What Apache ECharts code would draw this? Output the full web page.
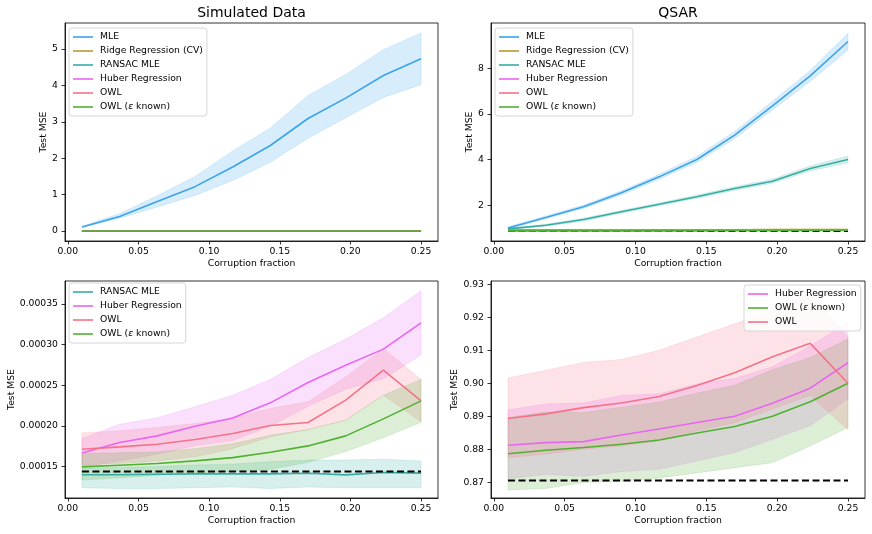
<!DOCTYPE html>
<html>
<head>
<meta charset="utf-8">
<script src="https://cdn.jsdelivr.net/npm/echarts@6/dist/echarts.min.js"></script>
<style>
html,body{margin:0;padding:0;background:#fff;}
#chart{width:872px;height:534px;}
</style>
</head>
<body>
<div id="chart"></div>
<script>
// ---------------- data ----------------
const xFrac = [0.01, 0.03667, 0.06333, 0.09, 0.11667, 0.14333, 0.17, 0.19667, 0.22333, 0.25];
const xTicks = [0, 0.05, 0.10, 0.15, 0.20, 0.25];

// Simulated data
const simMLE    = [0.11, 0.40, 0.81, 1.22, 1.76, 2.35, 3.09, 3.65, 4.27, 4.73];
const simMLELo  = [0.10, 0.35, 0.66, 0.98, 1.39, 1.89, 2.55, 3.11, 3.67, 4.02];
const simMLEHi  = [0.13, 0.48, 0.97, 1.50, 2.20, 2.83, 3.72, 4.30, 4.98, 5.44];
const simRidge   = [0.0021, 0.0022, 0.0024, 0.0025, 0.0027, 0.0029, 0.0031, 0.0034, 0.0036, 0.0039];
const simRidgeLo = [0.0018, 0.0019, 0.0021, 0.0022, 0.0024, 0.0026, 0.0027, 0.0030, 0.0032, 0.0034];
const simRidgeHi = [0.0024, 0.0025, 0.0027, 0.0028, 0.0030, 0.0032, 0.0035, 0.0038, 0.0040, 0.0044];
const simRansac   = [0.0001400, 0.0001400, 0.0001405, 0.0001410, 0.0001410, 0.0001410, 0.0001418, 0.0001398, 0.0001428, 0.0001420];
const simRansacLo = [0.0001240, 0.0001230, 0.0001230, 0.0001240, 0.0001250, 0.0001230, 0.0001250, 0.0001240, 0.0001240, 0.0001240];
const simRansacHi = [0.0001480, 0.0001490, 0.0001500, 0.0001520, 0.0001530, 0.0001560, 0.0001580, 0.0001580, 0.0001590, 0.0001570];
const simHuber   = [0.0001668, 0.0001795, 0.0001877, 0.0001996, 0.0002098, 0.0002283, 0.0002533, 0.0002746, 0.0002943, 0.0003266];
const simHuberLo = [0.0001492, 0.0001570, 0.0001654, 0.0001758, 0.0001819, 0.0001996, 0.0002240, 0.0002450, 0.0002580, 0.0002872];
const simHuberHi = [0.0001844, 0.0002020, 0.0002100, 0.0002234, 0.0002377, 0.0002570, 0.0002840, 0.0003066, 0.0003328, 0.0003660];
const simOWL   = [0.0001713, 0.0001742, 0.0001775, 0.0001832, 0.0001906, 0.0002004, 0.0002041, 0.0002316, 0.0002684, 0.0002307];
const simOWLLo = [0.0001520, 0.0001540, 0.0001570, 0.0001620, 0.0001720, 0.0001865, 0.0001955, 0.0002070, 0.0002377, 0.0002050];
const simOWLHi = [0.0001914, 0.0001939, 0.0001980, 0.0002029, 0.0002090, 0.0002213, 0.0002295, 0.0002600, 0.0002950, 0.0002570];
const simKnown   = [0.0001496, 0.0001516, 0.0001537, 0.0001570, 0.0001610, 0.0001676, 0.0001754, 0.0001877, 0.0002086, 0.0002307];
const simKnownLo = [0.0001335, 0.0001362, 0.0001394, 0.0001420, 0.0001440, 0.0001467, 0.0001553, 0.0001684, 0.0001855, 0.0002044];
const simKnownHi = [0.0001660, 0.0001670, 0.0001680, 0.0001720, 0.0001780, 0.0001885, 0.0001955, 0.0002070, 0.0002377, 0.0002570];
const simBaseline = 0.0001439;

// QSAR
const qMLE    = [1.00, 1.46, 1.93, 2.54, 3.24, 4.00, 5.07, 6.35, 7.66, 9.17];
const qMLELo  = [0.95, 1.40, 1.86, 2.45, 3.14, 3.87, 4.92, 6.17, 7.42, 8.80];
const qMLEHi  = [1.05, 1.53, 2.01, 2.63, 3.35, 4.14, 5.23, 6.55, 7.90, 9.53];
const qRidge   = [0.915, 0.916, 0.918, 0.919, 0.921, 0.923, 0.925, 0.928, 0.931, 0.934];
const qRidgeLo = [0.905, 0.906, 0.908, 0.909, 0.910, 0.912, 0.914, 0.916, 0.919, 0.921];
const qRidgeHi = [0.925, 0.926, 0.928, 0.930, 0.932, 0.934, 0.936, 0.940, 0.943, 0.947];
const qRansac   = [0.96, 1.12, 1.37, 1.71, 2.04, 2.37, 2.73, 3.05, 3.61, 4.00];
const qRansacLo = [0.93, 1.08, 1.31, 1.65, 1.98, 2.30, 2.65, 2.96, 3.50, 3.86];
const qRansacHi = [0.99, 1.16, 1.43, 1.77, 2.10, 2.44, 2.81, 3.14, 3.72, 4.15];
const qHuber   = [0.8812, 0.8820, 0.8823, 0.8843, 0.8861, 0.8881, 0.8900, 0.8939, 0.8985, 0.9062];
const qHuberLo = [0.8711, 0.8723, 0.8718, 0.8732, 0.8739, 0.8764, 0.8790, 0.8830, 0.8871, 0.8953];
const qHuberHi = [0.8919, 0.8937, 0.8940, 0.8963, 0.8968, 0.8998, 0.9014, 0.9050, 0.9113, 0.9184];
const qOWL   = [0.8893, 0.8907, 0.8926, 0.8940, 0.8960, 0.8993, 0.9032, 0.9080, 0.9121, 0.9000];
const qOWLLo = [0.8774, 0.8785, 0.8800, 0.8810, 0.8825, 0.8856, 0.8880, 0.8922, 0.8963, 0.8859];
const qOWLHi = [0.9016, 0.9039, 0.9063, 0.9072, 0.9100, 0.9140, 0.9180, 0.9220, 0.9275, 0.9140];
const qKnown   = [0.8786, 0.8797, 0.8805, 0.8815, 0.8828, 0.8849, 0.8869, 0.8900, 0.8944, 0.9000];
const qKnownLo = [0.8676, 0.8681, 0.8699, 0.8703, 0.8713, 0.8728, 0.8744, 0.8759, 0.8810, 0.8866];
const qKnownHi = [0.8896, 0.8913, 0.8911, 0.8927, 0.8943, 0.8970, 0.8994, 0.9041, 0.9078, 0.9134];
const qBaseline = 0.8705;

const tlYTicks = [0, 1, 2, 3, 4, 5];
const trYTicks = [2, 4, 6, 8];
const blYTicks = [0.00015, 0.00020, 0.00025, 0.00030, 0.00035];
const brYTicks = [0.87, 0.88, 0.89, 0.90, 0.91, 0.92, 0.93];

const titles = ['Simulated Data', 'QSAR'];
const names = {
  mle: 'MLE', ridge: 'Ridge Regression (CV)', ransac: 'RANSAC MLE',
  huber: 'Huber Regression', owl: 'OWL', known: 'OWL (ε known)'
};
const colors = {
  mle: '#3ba3ec', ridge: '#bb9832', ransac: '#36ada4',
  huber: '#e866f4', owl: '#f77189', known: '#50b131'
};

// ---------------- build ----------------
const FONT = 'DejaVu Sans';
const FS = 9.25;
const pairs = ys => xFrac.map((x, i) => [x, ys[i]]);

function bandRender(color) {
  return function (params, api) {
    if (params.dataIndexInside !== 0) return null;
    const n = params.dataInsideLength;
    const top = [], bot = [];
    for (let j = 0; j < n; j++) {
      const x = api.value(0, j);
      top.push(api.coord([x, api.value(2, j)]));
      bot.push(api.coord([x, api.value(1, j)]));
    }
    const pts = top.concat(bot.reverse());
    return {
      type: 'polygon',
      shape: {points: pts},
      style: {fill: color, opacity: 0.2, stroke: color, lineWidth: 0.8}
    };
  };
}

const series = [];
function addPanel(g, specs, baseline, baseZ) {
  specs.forEach((s, i) => {
    series.push({
      type: 'custom', name: 'band' + g + '_' + i, xAxisIndex: g, yAxisIndex: g,
      data: xFrac.map((x, j) => [x, s.lo[j], s.hi[j]]),
      encode: {x: 0, y: [1, 2]},
      renderItem: bandRender(colors[s.k]), silent: true, z: 1, animation: false
    });
  });
  series.push({
    type: 'line', name: 'baseline' + g, xAxisIndex: g, yAxisIndex: g,
    data: pairs(xFrac.map(() => baseline)), symbol: 'none', z: baseZ, animation: false,
    lineStyle: {color: '#000', width: 1.9, type: [7, 3.5]}
  });
  specs.forEach((s, i) => {
    series.push({
      type: 'line', name: names[s.k], xAxisIndex: g, yAxisIndex: g,
      data: pairs(s.mean), symbol: 'none', showSymbol: false, z: 3 + i, animation: false,
      itemStyle: {color: colors[s.k]},
      lineStyle: {color: colors[s.k], width: 1.6}
    });
  });
}

addPanel(0, [
  {k: 'mle', mean: simMLE, lo: simMLELo, hi: simMLEHi},
  {k: 'ridge', mean: simRidge, lo: simRidgeLo, hi: simRidgeHi},
  {k: 'ransac', mean: simRansac, lo: simRansacLo, hi: simRansacHi},
  {k: 'huber', mean: simHuber, lo: simHuberLo, hi: simHuberHi},
  {k: 'owl', mean: simOWL, lo: simOWLLo, hi: simOWLHi},
  {k: 'known', mean: simKnown, lo: simKnownLo, hi: simKnownHi}
], simBaseline, 2);
addPanel(1, [
  {k: 'mle', mean: qMLE, lo: qMLELo, hi: qMLEHi},
  {k: 'ridge', mean: qRidge, lo: qRidgeLo, hi: qRidgeHi},
  {k: 'ransac', mean: qRansac, lo: qRansacLo, hi: qRansacHi},
  {k: 'huber', mean: qHuber, lo: qHuberLo, hi: qHuberHi},
  {k: 'owl', mean: qOWL, lo: qOWLLo, hi: qOWLHi},
  {k: 'known', mean: qKnown, lo: qKnownLo, hi: qKnownHi}
], qBaseline, 2);
addPanel(2, [
  {k: 'ransac', mean: simRansac, lo: simRansacLo, hi: simRansacHi},
  {k: 'huber', mean: simHuber, lo: simHuberLo, hi: simHuberHi},
  {k: 'owl', mean: simOWL, lo: simOWLLo, hi: simOWLHi},
  {k: 'known', mean: simKnown, lo: simKnownLo, hi: simKnownHi}
], simBaseline, 20);
addPanel(3, [
  {k: 'huber', mean: qHuber, lo: qHuberLo, hi: qHuberHi},
  {k: 'known', mean: qKnown, lo: qKnownLo, hi: qKnownHi},
  {k: 'owl', mean: qOWL, lo: qOWLLo, hi: qOWLHi}
], qBaseline, 20);

const grids = [
  {left: 65, top: 23, width: 373, height: 218},
  {left: 491, top: 23, width: 374, height: 218},
  {left: 65, top: 281, width: 373, height: 217},
  {left: 491, top: 281, width: 374, height: 217}
].map(g => Object.assign(g, {show: true, borderColor: '#000', borderWidth: 0.8, backgroundColor: 'transparent', containLabel: false}));

const txt = {fontFamily: FONT, fontSize: FS, color: '#000'};
const xAxes = [0, 1, 2, 3].map(g => ({
  type: 'value', gridIndex: g, min: -0.002, max: 0.262,
  name: 'Corruption fraction', nameLocation: 'middle', nameGap: 18,
  nameTextStyle: txt,
  splitLine: {show: false},
  axisLine: {show: true, onZero: false, lineStyle: {color: '#000', width: 0.8}},
  axisTick: {show: true, length: 3.5, customValues: xTicks, lineStyle: {color: '#000', width: 0.8}},
  axisLabel: Object.assign({margin: 6, customValues: xTicks, formatter: v => v.toFixed(2)}, txt)
}));
const yCfg = [
  {min: -0.272, max: 5.712, ticks: tlYTicks, fmt: v => String(Math.round(v)), gap: 17},
  {min: 0.43, max: 9.98, ticks: trYTicks, fmt: v => String(Math.round(v)), gap: 17},
  {min: 0.0001114, max: 0.000378, ticks: blYTicks, fmt: v => v.toFixed(5), gap: 49},
  {min: 0.8652, max: 0.931, ticks: brYTicks, fmt: v => v.toFixed(2), gap: 31.5}
];
const yAxes = yCfg.map((c, g) => ({
  type: 'value', gridIndex: g, min: c.min, max: c.max,
  name: 'Test MSE', nameLocation: 'middle', nameGap: c.gap, nameRotate: 90,
  nameTextStyle: txt,
  splitLine: {show: false},
  axisLine: {show: true, onZero: false, lineStyle: {color: '#000', width: 0.8}},
  axisTick: {show: true, length: 3.5, customValues: c.ticks, lineStyle: {color: '#000', width: 0.8}},
  axisLabel: Object.assign({margin: 7, customValues: c.ticks, formatter: c.fmt}, txt)
}));

const legendBase = {
  orient: 'vertical', selectedMode: false, icon: 'rect', itemWidth: 20, itemHeight: 1.6, itemGap: 2,
  backgroundColor: 'rgba(255,255,255,0.8)', borderColor: '#d6d6d6', borderWidth: 1, borderRadius: 3,
  padding: [3, 4, 3, 4], z: 30,
  textStyle: {fontFamily: FONT, fontSize: FS, color: '#000', lineHeight: 12, padding: [0, 0, 0, 2],
    rich: {e: {fontFamily: FONT, fontSize: FS, fontStyle: 'italic', color: '#000'}}},
  formatter: n => n === names.known ? 'OWL ({e|ε} known)' : n
};
const legends = [
  Object.assign({left: 69, top: 28, data: [names.mle, names.ridge, names.ransac, names.huber, names.owl, names.known]}, legendBase),
  Object.assign({left: 495, top: 28, data: [names.mle, names.ridge, names.ransac, names.huber, names.owl, names.known]}, legendBase),
  Object.assign({left: 69, top: 283, data: [names.ransac, names.huber, names.owl, names.known]}, legendBase),
  Object.assign({left: 744, top: 285, data: [names.huber, names.known, names.owl]}, legendBase)
];

const chart = echarts.init(document.getElementById('chart'), null, {renderer: 'canvas'});
chart.setOption({
  animation: false,
  backgroundColor: '#fff',
  grid: grids,
  xAxis: xAxes,
  yAxis: yAxes,
  legend: legends,
  graphic: [
    {type: 'text', x: 251.5, y: 13.5, style: {text: titles[0], font: '14px "DejaVu Sans"', fill: '#000', textAlign: 'center', textVerticalAlign: 'middle'}},
    {type: 'text', x: 678, y: 13.5, style: {text: titles[1], font: '14px "DejaVu Sans"', fill: '#000', textAlign: 'center', textVerticalAlign: 'middle'}}
  ],
  series: series
});
</script>
</body>
</html>
